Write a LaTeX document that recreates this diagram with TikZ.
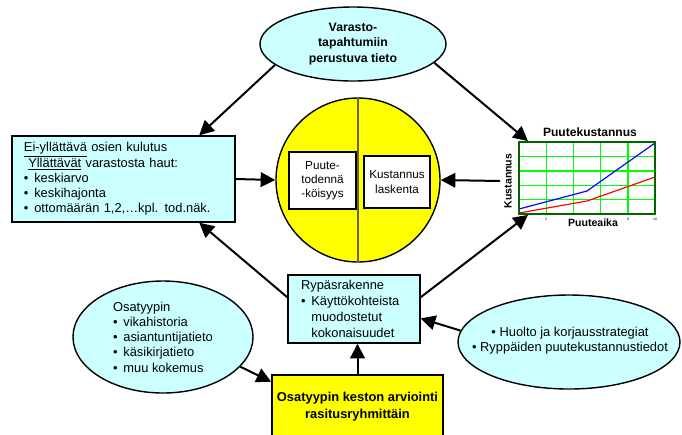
\documentclass[tikz,border=0pt]{standalone}
\usepackage{fontspec}
\setmainfont{Liberation Sans}
\usetikzlibrary{shapes.geometric,arrows.meta}

\definecolor{vaalea}{HTML}{CCFFFF}
\definecolor{keltainen}{HTML}{FFFF00}
\definecolor{tummavihrea}{HTML}{006600}
\definecolor{ruudukko}{HTML}{00FF00}
\definecolor{oliivi}{HTML}{666633}

\newcommand{\pallo}{\makebox[0.8em][l]{\textbullet}}
\newcommand{\sisenna}{\hspace*{0.8em}}

\tikzset{
  pil/.style={line width=1.7pt, -{Triangle[length=12.5pt,width=12.5pt]}},
  soikio/.style={ellipse, draw, line width=1.2pt, fill=vaalea, inner sep=0pt},
  laatikko/.style={rectangle, draw, line width=1.2pt, fill=vaalea, inner sep=0pt},
  sisus/.style={rectangle, draw, line width=1pt, fill=white, inner sep=0pt, align=center,
    font=\fontsize{10}{12}\selectfont},
  teksti/.style={font=\fontsize{11}{13}\selectfont},
  akseli/.style={font=\bfseries\fontsize{9}{11}\selectfont},
}

\begin{document}
\begin{tikzpicture}[x=0.03cm, y=-0.03cm]
\useasboundingbox (0,0) rectangle (682,434);
\clip (0,0) rectangle (682,434);

\node[soikio, minimum width=5.58cm, minimum height=2.22cm, align=center,
  font=\bfseries\fontsize{10.5}{13}\selectfont] (varasto) at (353,44)
  {Varasto-\\tapahtumiin\\perustuva tieto};

\node[laatikko, teksti, minimum width=6.69cm, minimum height=2.58cm, align=left,
  text width=5.97cm] (kulutus) at (123.5,179)
  {\underline{Ei-yllättävä} osien kulutus\\
   \ \underline{Yllättävät} varastosta haut:\\
   \pallo keskiarvo\\
   \pallo keskihajonta\\
   \pallo ottomäärän 1,2,\dots kpl. tod.näk.};

\node[circle, draw, line width=1.2pt, fill=keltainen, minimum size=4.92cm, inner sep=0pt] (ydin) at (358,180) {};
\draw[oliivi, line width=1pt] (ydin.north) -- (ydin.south);
\node[sisus, minimum width=2.01cm, minimum height=1.71cm] (todnak) at (322.5,180.5) {Puute-\\todennä\\-köisyys};
\node[sisus, minimum width=1.98cm, minimum height=1.56cm] (laskenta) at (397,182) {Kustannus\\laskenta};

\foreach \i in {1,...,4}
  \draw[ruudukko, line width=1.2pt] (519+27.2*\i,142) -- (519+27.2*\i,214);
\foreach \i in {1,...,4}
  \draw[ruudukko, line width=1.2pt] (519,142+14.4*\i) -- (655,142+14.4*\i);
\draw[blue, line width=1pt] (519,209) -- (587,191) -- (655,143);
\draw[red, line width=1pt] (519,213) -- (587,201) -- (655,177);
\node[draw=tummavihrea, line width=1.5pt, minimum width=4.08cm, minimum height=2.16cm, inner sep=0pt] (graf) at (587,178) {};
\node[font=\bfseries\fontsize{10.3}{12}\selectfont] (otsikko) at (590,132) {Puutekustannus};
\node[akseli, rotate=90] (kustlbl) at (508,181) {Kustannus};
\node[akseli] (aikalbl) at (593,223) {Puuteaika};
\foreach \t/\x in {0/519, 2/546, 8/628, 10/655}
  \node[font=\fontsize{3}{3}\selectfont, inner sep=0pt] (tick\t) at (\x,219) {\t};

\node[laatikko, font=\fontsize{11}{13.6}\selectfont, minimum width=3.96cm, minimum height=2.04cm,
  align=left, text width=3.18cm] (rypas) at (354,309)
  {Rypäsrakenne\\\pallo Käyttökohteista\\\sisenna muodostetut\\\sisenna kokonaisuudet};

\node[soikio, minimum width=5.4cm, minimum height=3.36cm] (osatyyppi) at (163,337) {};
\node[teksti, align=left] (osateksti) at (osatyyppi.center)
  {Osatyypin\\\pallo vikahistoria\\\pallo asiantuntijatieto\\\pallo käsikirjatieto\\\pallo muu kokemus};

\node[rectangle, draw, line width=1.5pt, fill=keltainen, minimum width=5.13cm, minimum height=1.89cm,
  inner sep=0pt, align=center, font=\bfseries\fontsize{11}{14.5}\selectfont] (arviointi) at (357.5,406.5)
  {Osatyypin keston arviointi\\rasitusryhmittäin};

\node[soikio, minimum width=6.66cm, minimum height=2.82cm] (huolto) at (569,342) {};
\node[teksti, align=center] (huoltoteksti) at (570,341)
  {\textbullet\ Huolto ja korjausstrategiat\\\textbullet\ Ryppäiden puutekustannustiedot};

\draw[pil] (varasto.195) -- (kulutus.30);
\draw[pil] (varasto.347) -- (graf.148);
\draw[pil] (kulutus.east) -- (ydin.west);
\draw[pil] (kustlbl.north) -- (ydin.east);
\draw[pil] (rypas.170) -- (kulutus.330);
\draw[pil] (rypas.10) -- (graf.212);
\draw[pil] (osatyyppi.-21) -- (arviointi.164);
\draw[pil] (arviointi.north) -- (arviointi.north |- rypas.south);
\draw[pil] (huolto.174) -- (rypas.-8);
\end{tikzpicture}
\end{document}
